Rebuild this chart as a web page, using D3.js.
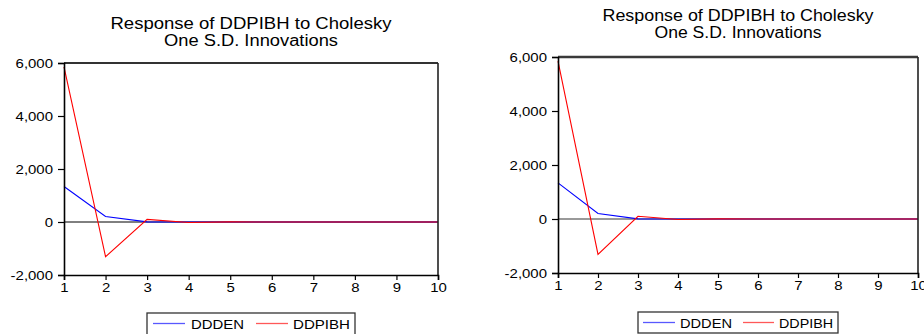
<!DOCTYPE html>
<html><head><meta charset="utf-8">
<script src="https://cdn.jsdelivr.net/npm/d3@7"></script>
<style>body{margin:0;background:#fff}svg{display:block}text{font-family:"Liberation Sans",Arial,sans-serif;fill:#000}</style>
</head><body><svg id="c" width="924" height="334"></svg>
<script>
const periods = [1,2,3,4,5,6,7,8,9,10];
const ddden  = [1340, 205, 5, 2, 0, 0, 0, 0, 0, 0];
const ddpibh = [5850, -1310, 100, -20, 3, 0, 0, 0, 0, 0];
const yTicks = [-2000, 0, 2000, 4000, 6000];
const titleLines = ["Response of DDPIBH to Cholesky", "One S.D. Innovations"];
const seriesNames = ["DDDEN", "DDPIBH"];
const seriesColors = ["#0000ff", "#ff0000"];

const svg = d3.select("#c");
const stretch = 1.15;
const fmtY = d3.formatLocale({decimal:".",thousands:",",grouping:[3],currency:["",""],minus:"-"}).format(",");

function stretchText(sel){
  sel.each(function(){ const n=this; const w=n.getComputedTextLength(); d3.select(n).attr("textLength", w*stretch).attr("lengthAdjust","spacingAndGlyphs"); });
}

function drawChart(L){
  const g = svg.append("g");
  const x = d3.scaleLinear().domain([1,10]).range([L.x0, L.x1]);
  const y = d3.scaleLinear().domain([-2000,6000]).range([L.y1, L.y0]);
  const cx = (L.x0+L.x1)/2;
  g.selectAll("text.title").data(titleLines).join("text").attr("class","title")
    .attr("x", cx).attr("y",(d,i)=>L.tb[i]).attr("text-anchor","middle")
    .style("font-size","16px").text(d=>d)
    .attr("textLength",(d,i)=>L.tw[i]).attr("lengthAdjust","spacingAndGlyphs");
  g.append("line").attr("x1",L.x0).attr("x2",L.x1).attr("y1",y(0)).attr("y2",y(0))
    .attr("stroke",L.zeroColor).attr("stroke-width",L.zeroW);
  const line = d3.line().x((d,i)=>x(periods[i])).y(d=>y(d));
  [ddden, ddpibh].forEach((s,k)=>{
    g.append("path").attr("d",line(s)).attr("fill","none").attr("stroke",seriesColors[k]).attr("stroke-width",1.1);
  });
  g.append("line").attr("x1",L.x0).attr("x2",L.x1).attr("y1",L.y0).attr("y2",L.y0).attr("stroke",L.topColor).attr("stroke-width",L.topW);
  g.append("line").attr("x1",L.x1).attr("x2",L.x1).attr("y1",L.y0).attr("y2",L.y1).attr("stroke","#222").attr("stroke-width",1.6);
  const ya = g.append("g").attr("transform",`translate(${L.x0},0)`)
    .call(d3.axisLeft(y).tickValues(yTicks).tickSize(6).tickPadding(5).tickFormat(fmtY));
  const xa = g.append("g").attr("transform",`translate(0,${L.y1})`)
    .call(d3.axisBottom(x).tickValues(periods).tickSize(5).tickPadding(3).tickFormat(d3.format("d")));
  [ya,xa].forEach(a=>{
    a.select(".domain").attr("stroke","#000").attr("stroke-width",1.6);
    a.selectAll(".tick line").attr("stroke","#000").attr("stroke-width",1.2);
    a.selectAll("text").style("font-size","13px").attr("fill","#000").attr("font-family",null);
  });
  stretchText(ya.selectAll("text"));
  stretchText(xa.selectAll("text"));
  const lg = g.append("g");
  lg.append("rect").attr("x",L.lx0).attr("y",L.ly0).attr("width",L.lx1-L.lx0).attr("height",L.lh)
    .attr("fill","#fff").attr("stroke","#333").attr("stroke-width",1.3);
  seriesNames.forEach((nm,k)=>{
    lg.append("line").attr("x1",L.lines[k][0]).attr("x2",L.lines[k][1]).attr("y1",L.lyc).attr("y2",L.lyc)
      .attr("stroke",seriesColors[k]).attr("stroke-width",1.3).attr("opacity",0.65);
    lg.append("text").attr("x",L.texts[k][0]).attr("y",L.lyc+5).style("font-size","13px").text(nm)
      .attr("textLength",L.texts[k][1]-L.texts[k][0]).attr("lengthAdjust","spacingAndGlyphs");
  });
}

drawChart({x0:64,x1:438,y0:63,y1:275,tb:[29,45.5],tw:[281,174],zeroColor:"#000",zeroW:1,topColor:"#333",topW:1.8,
  lx0:147,lx1:355,ly0:313,lh:24,lyc:323.5,lines:[[153,185],[256,288]],texts:[[191,244],[293,350]]});
drawChart({x0:558,x1:918,y0:57,y1:273,tb:[21,37.5],tw:[271,167],zeroColor:"#777",zeroW:1.5,topColor:"#3a3a3a",topW:2.6,
  lx0:638,lx1:838,ly0:312,lh:21,lyc:322.5,lines:[[643,675],[743,774]],texts:[[680,732],[779,833]]});
</script></body></html>
